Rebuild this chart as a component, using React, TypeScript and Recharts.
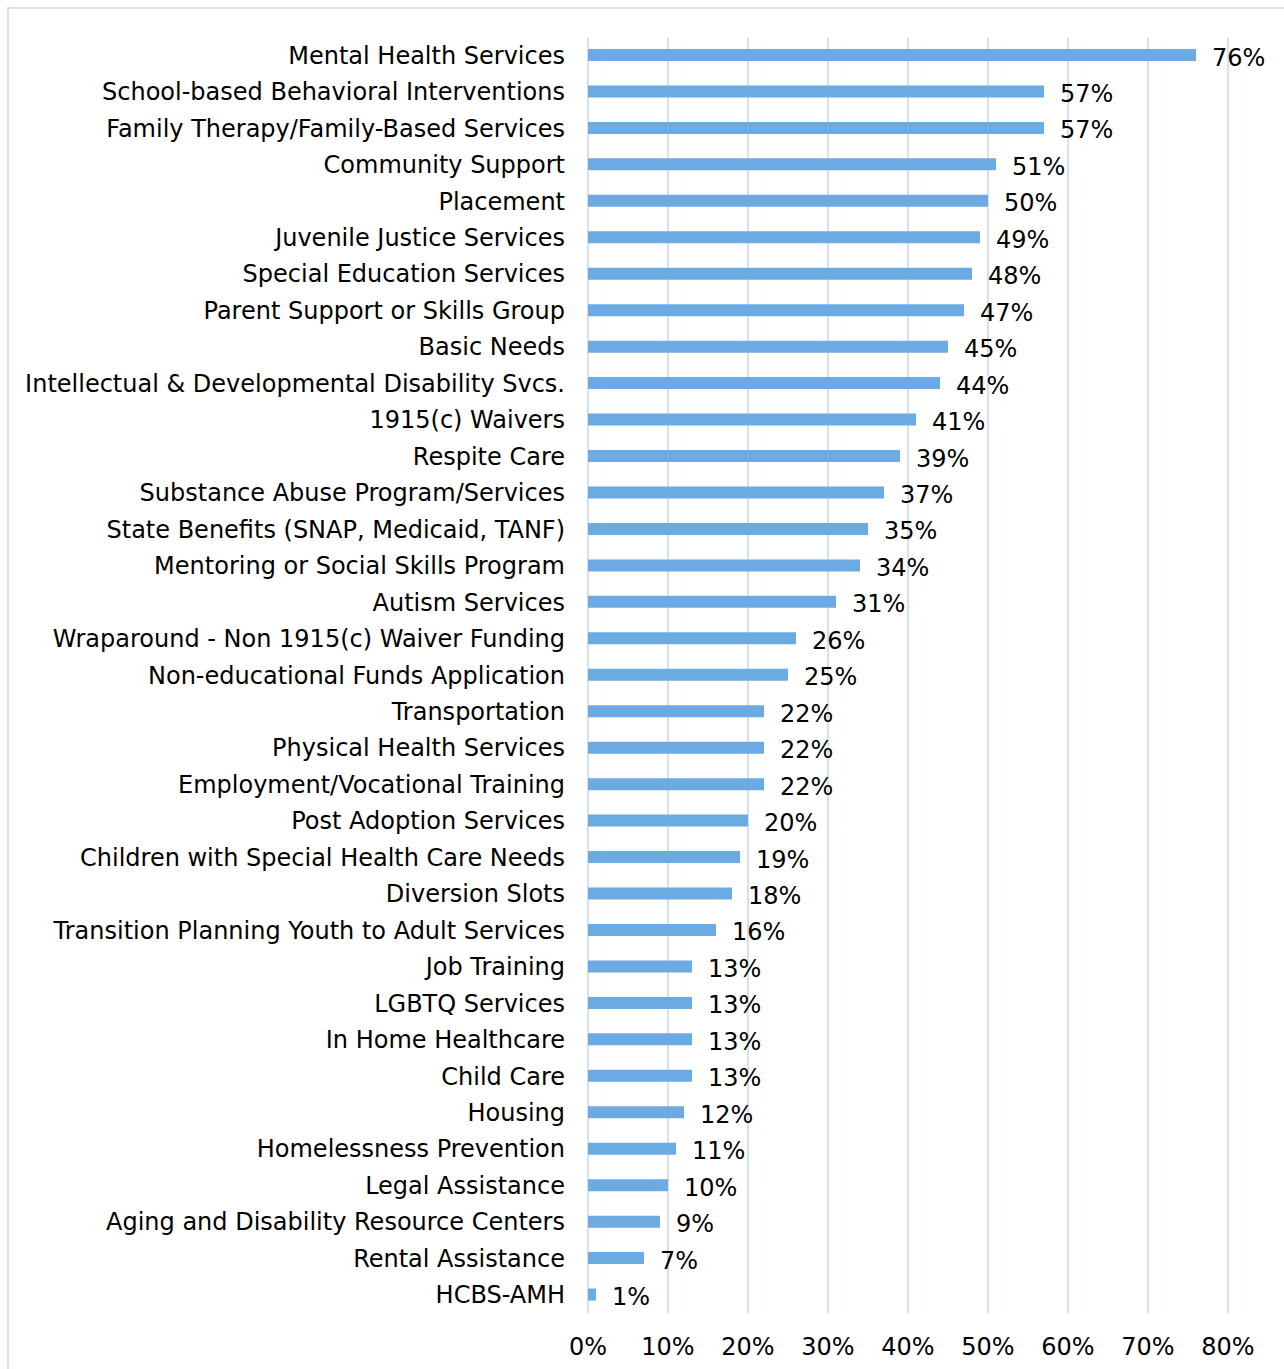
import { BarChart, Bar, XAxis, YAxis, CartesianGrid, LabelList } from 'recharts';

// Services share (percent)
const CATEGORIES = [
  'Mental Health Services',
  'School-based Behavioral Interventions',
  'Family Therapy/Family-Based Services',
  'Community Support',
  'Placement',
  'Juvenile Justice Services',
  'Special Education Services',
  'Parent Support or Skills Group',
  'Basic Needs',
  'Intellectual & Developmental Disability Svcs.',
  '1915(c) Waivers',
  'Respite Care',
  'Substance Abuse Program/Services',
  'State Benefits (SNAP, Medicaid, TANF)',
  'Mentoring or Social Skills Program',
  'Autism Services',
  'Wraparound - Non 1915(c) Waiver Funding',
  'Non-educational Funds Application',
  'Transportation',
  'Physical Health Services',
  'Employment/Vocational Training',
  'Post Adoption Services',
  'Children with Special Health Care Needs',
  'Diversion Slots',
  'Transition Planning Youth to Adult Services',
  'Job Training',
  'LGBTQ Services',
  'In Home Healthcare',
  'Child Care',
  'Housing',
  'Homelessness Prevention',
  'Legal Assistance',
  'Aging and Disability Resource Centers',
  'Rental Assistance',
  'HCBS-AMH',
];

const VALUES = [
  76, 57, 57, 51, 50, 49, 48, 47, 45, 44, 41, 39, 37, 35, 34, 31, 26, 25, 22, 22, 22, 20, 19, 18, 16,
  13, 13, 13, 13, 12, 11, 10, 9, 7, 1,
];

const X_TICKS = [0, 10, 20, 30, 40, 50, 60, 70, 80];

const data = CATEGORIES.map((name, i) => ({ name, value: VALUES[i] }));

const FONT = '"DejaVu Sans", Verdana, sans-serif';

export default function App() {
  return (
    <div style={{ position: 'absolute', left: 0, top: 0, width: 1284, height: 1369, overflow: 'hidden', background: '#fff' }}>
      <div
        style={{
          position: 'absolute',
          left: 7,
          top: 7,
          width: 1300,
          height: 1380,
          border: '2px solid #D9E1F2',
          boxSizing: 'border-box',
        }}
      />
      <div style={{ position: 'absolute', left: 0, top: 0 }}>
        <BarChart
          width={1284}
          height={1369}
          data={data}
          layout="vertical"
          margin={{ top: 37, right: 56, left: 8, bottom: 16 }}
          style={{ fontFamily: FONT }}
        >
          <CartesianGrid horizontal={false} stroke="#D6E0F0" strokeWidth={2} />
          <XAxis
            type="number"
            domain={[0, 80]}
            ticks={X_TICKS}
            tickFormatter={(v) => `${v}%`}
            axisLine={false}
            tickLine={false}
            tickSize={0}
            tickMargin={25}
            height={40}
            interval={0}
            tick={{ fill: '#000', fontSize: 24 }}
          />
          <YAxis
            type="category"
            dataKey="name"
            width={580}
            axisLine={false}
            tickLine={false}
            tickSize={0}
            tickMargin={23}
            interval={0}
            tick={{ fill: '#000', fontSize: 24 }}
          />
          <Bar dataKey="value" fill="#6CAAE3" barSize={12} isAnimationActive={false}>
            <LabelList
              dataKey="value"
              position="right"
              offset={16}
              formatter={(v: any) => `${v}%`}
              style={{ fill: '#000', fontSize: 24, fontFamily: FONT }}
              dy={2}
            />
          </Bar>
        </BarChart>
      </div>
    </div>
  );
}
